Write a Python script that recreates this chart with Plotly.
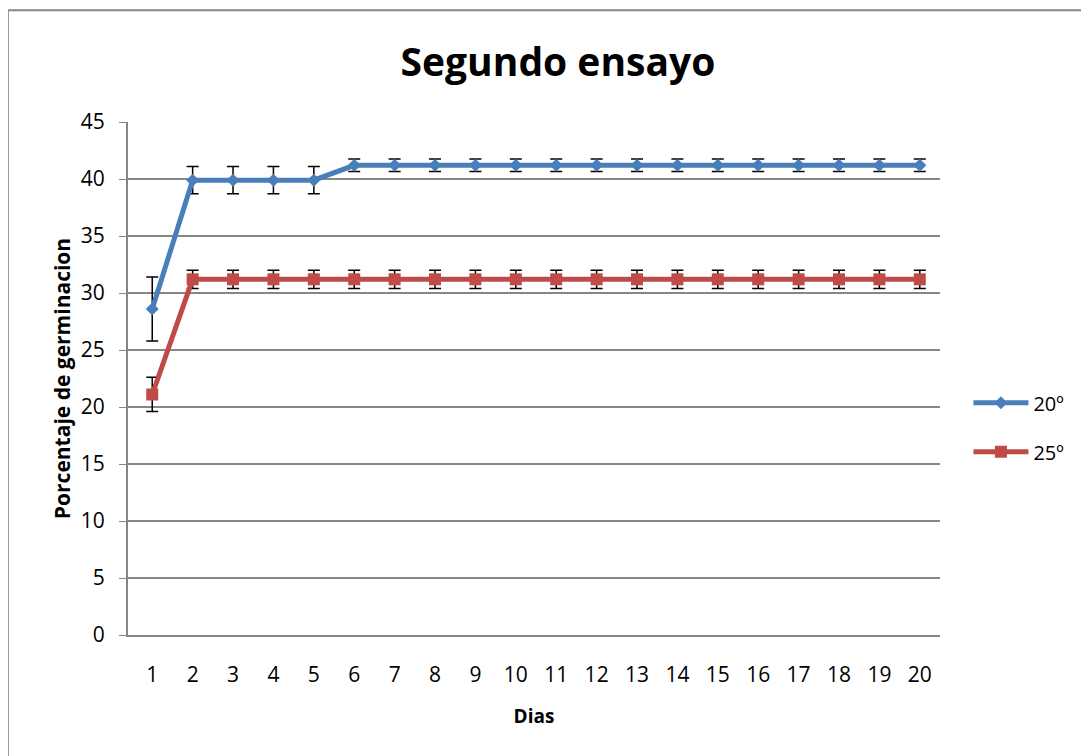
import plotly.graph_objects as go

dias = list(range(1, 21))

g20 = [28.6, 39.9, 39.9, 39.9, 39.9] + [41.2] * 15
err20 = [2.8, 1.2, 1.2, 1.2, 1.2] + [0.55] * 15

g25 = [21.1] + [31.2] * 19
err25 = [1.5] + [0.8] * 19

FONT = "Open Sans"

fig = go.Figure()

fig.add_trace(go.Scatter(
    x=dias, y=g20, name="20º", mode="lines+markers", legendgroup="a",
    line=dict(color="#4a7ebb", width=5),
    marker=dict(symbol="diamond", size=10, color="#4a7ebb"),
    error_y=dict(type="data", array=err20, visible=True,
                 color="black", thickness=1.5, width=6),
))

fig.add_trace(go.Scatter(
    x=dias, y=g25, name="25º", mode="lines+markers", legendgroup="b",
    line=dict(color="#be4b48", width=5),
    marker=dict(symbol="square", size=12, color="#be4b48"),
    error_y=dict(type="data", array=err25, visible=True,
                 color="black", thickness=1.5, width=6),
))

fig.update_layout(
    width=1089, height=756,
    paper_bgcolor="white", plot_bgcolor="white",
    margin=dict(l=120, r=157, t=114, b=129),
    font=dict(family=FONT, size=21, color="black"),
    title=dict(text="<b>Segundo ensayo</b>", x=0.505, xanchor="center",
               y=0.928, yanchor="middle", font=dict(size=39, family=FONT)),
    legend=dict(x=1.035, y=0.405, yanchor="middle", xanchor="left",
                font=dict(size=20), tracegroupgap=20, itemwidth=55),
    shapes=[dict(type="rect", xref="paper", yref="paper",
                 x0=-0.148, x1=1.18, y0=-0.25, y1=1.218,
                 line=dict(color="#868686", width=2), layer="below")],
)

fig.update_xaxes(
    range=[0.4, 20.5], tickmode="array", tickvals=dias,
    showgrid=False, showline=True, linecolor="#868686", linewidth=2,
    ticks="", zeroline=False, ticklabelstandoff=20,
    title=dict(text="<b>Dias</b>", font=dict(size=19), standoff=22),
)

fig.update_yaxes(
    range=[0, 45], dtick=5, showgrid=True, gridcolor="#868686", gridwidth=1.5,
    showline=True, linecolor="#868686", linewidth=2,
    ticks="outside", ticklen=7, tickcolor="#868686", zeroline=False,
    ticklabelstandoff=10,
    title=dict(text="<b>Porcentaje de germinacion</b>", font=dict(size=21), standoff=4),
)

fig.write_html("out.html")
